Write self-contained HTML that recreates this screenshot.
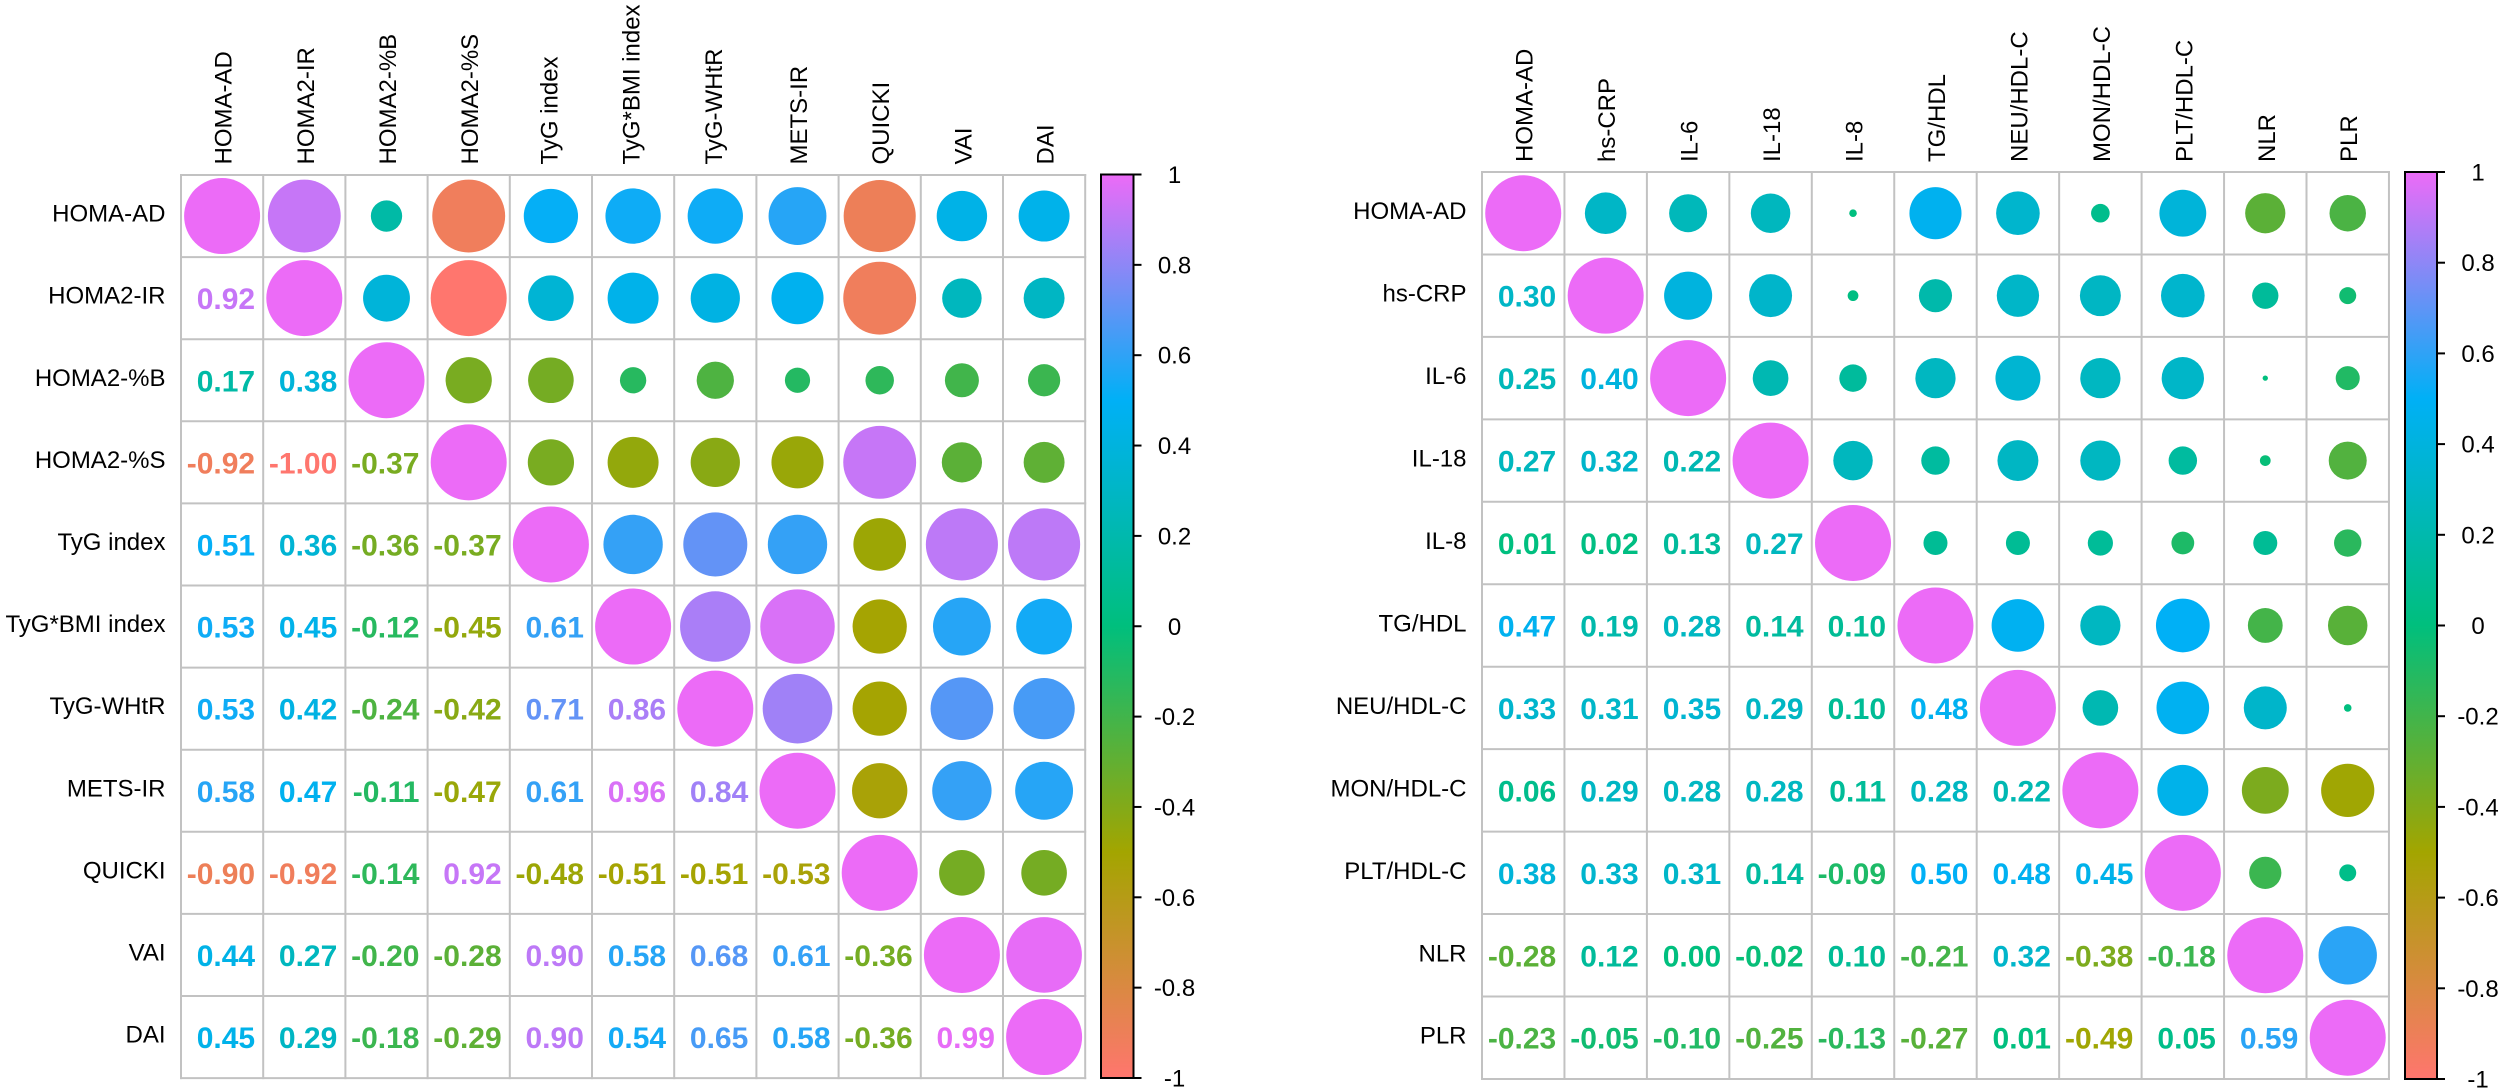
<!DOCTYPE html>
<html lang="en">
<head>
<meta charset="utf-8">
<title>Correlation matrices</title>
<style>
html,body{margin:0;padding:0;background:#fff;}
svg{display:block;font-family:"Liberation Sans",Arial,sans-serif;}
</style>
</head>
<body>
<svg id="chart" width="2500" height="1091" viewBox="0 0 2500 1091" xmlns="http://www.w3.org/2000/svg">
  <defs id="defs"></defs>
  <rect x="0" y="0" width="2500" height="1091" fill="#ffffff"></rect>
</svg>
<script>
// ---- data ----
const leftCategories = ["HOMA-AD","HOMA2-IR","HOMA2-%B","HOMA2-%S","TyG index","TyG*BMI index","TyG-WHtR","METS-IR","QUICKI","VAI","DAI"];
const leftValues = [
  [1],
  [0.92,1],
  [0.17,0.38,1],
  [-0.92,-1.00,-0.37,1],
  [0.51,0.36,-0.36,-0.37,1],
  [0.53,0.45,-0.12,-0.45,0.61,1],
  [0.53,0.42,-0.24,-0.42,0.71,0.86,1],
  [0.58,0.47,-0.11,-0.47,0.61,0.96,0.84,1],
  [-0.90,-0.92,-0.14,0.92,-0.48,-0.51,-0.51,-0.53,1],
  [0.44,0.27,-0.20,-0.28,0.90,0.58,0.68,0.61,-0.36,1],
  [0.45,0.29,-0.18,-0.29,0.90,0.54,0.65,0.58,-0.36,0.99,1]
];
const rightCategories = ["HOMA-AD","hs-CRP","IL-6","IL-18","IL-8","TG/HDL","NEU/HDL-C","MON/HDL-C","PLT/HDL-C","NLR","PLR"];
const rightValues = [
  [1],
  [0.30,1],
  [0.25,0.40,1],
  [0.27,0.32,0.22,1],
  [0.01,0.02,0.13,0.27,1],
  [0.47,0.19,0.28,0.14,0.10,1],
  [0.33,0.31,0.35,0.29,0.10,0.48,1],
  [0.06,0.29,0.28,0.28,0.11,0.28,0.22,1],
  [0.38,0.33,0.31,0.14,-0.09,0.50,0.48,0.45,1],
  [-0.28,0.12,0.0049,-0.02,0.10,-0.21,0.32,-0.38,-0.18,1],
  [-0.23,-0.05,-0.10,-0.25,-0.13,-0.27,0.01,-0.49,0.05,0.59,1]
];
const colorbarTicks = [1,0.8,0.6,0.4,0.2,0,-0.2,-0.4,-0.6,-0.8,-1];
const paletteDomain = [-1,-0.5,0,0.5,1];
const paletteColors = [[255,118,110],[163,165,0],[0,191,125],[0,176,246],[236,107,247]];

// ---- helpers ----
const NS = "http://www.w3.org/2000/svg";
const chart = document.getElementById("chart");
function mk(tag, parent){
  const el = document.createElementNS(NS, tag);
  parent.appendChild(el);
  return el;
}
function setA(el, k, v){ el.setAttribute(k, v); }
function colorFor(v){
  let i = 0;
  while(i < paletteDomain.length-2 && v > paletteDomain[i+1]) i++;
  const t = (v-paletteDomain[i])/(paletteDomain[i+1]-paletteDomain[i]);
  const a = paletteColors[i], b = paletteColors[i+1];
  return "rgb(" + [0,1,2].map(function(k){return Math.round(a[k]+(b[k]-a[k])*t);}).join(",") + ")";
}
function slug(s){ return s.toLowerCase().replace(/[^a-z0-9]+/g,"-").replace(/^-|-$/g,""); }

function drawPanel(prefix, cats, vals, L){
  const n = cats.length;
  const xScale = function(i){ return L.x0 + i*L.cw; };
  const yScale = function(i){ return L.y0 + i*L.ch; };
  const radius = function(v){ return L.rMax*Math.sqrt(Math.abs(v)); };
  const valueAt = function(r,c){ return r>=c ? vals[r][c] : vals[c][r]; };

  const panel = mk("g", chart);
  
  

  // grid
  const grid = mk("g", panel);
  
  
  for(let i=0;i<=n;i++){
    const h = mk("line", grid);
    
    
    setA(h,"x1",xScale(0)); setA(h,"x2",xScale(n)); setA(h,"y1",yScale(i)); setA(h,"y2",yScale(i));
    setA(h,"stroke","#c2c2c2"); setA(h,"stroke-width",2); setA(h,"stroke-linecap","square");
    const w = mk("line", grid);
    
    
    setA(w,"x1",xScale(i)); setA(w,"x2",xScale(i)); setA(w,"y1",yScale(0)); setA(w,"y2",yScale(n));
    setA(w,"stroke","#c2c2c2"); setA(w,"stroke-width",2); setA(w,"stroke-linecap","square");
  }

  // axis labels
  for(let i=0;i<n;i++){
    const rl = mk("text", panel);
    
    
    setA(rl,"x",L.rowRight); setA(rl,"y",yScale(i+0.5)+L.labelDy);
    setA(rl,"text-anchor","end"); setA(rl,"font-size",24); setA(rl,"fill","#000");
    rl.textContent = cats[i];

    const cl = mk("text", panel);
    
    
    const cx = xScale(i+0.5) + (/[gjpqy]/.test(cats[i]) ? 6.5 : 9.5);
    setA(cl,"transform","translate("+cx+" "+L.colBottom+") rotate(-90)");
    setA(cl,"text-anchor","start"); setA(cl,"font-size",24); setA(cl,"fill","#000");
    cl.textContent = cats[i];
  }

  // cells
  for(let r=0;r<n;r++){
    for(let c=0;c<n;c++){
      const v = valueAt(r,c);
      if(c>=r){
        const m = mk("circle", panel);
        
        
        setA(m,"cx",xScale(c+0.5)); setA(m,"cy",yScale(r+0.5)); setA(m,"r",radius(v));
        setA(m,"fill",colorFor(v));
      } else {
        const t = mk("text", panel);
        
        
        setA(t,"x",xScale(c+0.5)+33); setA(t,"y",yScale(r+0.5)+11);
        setA(t,"text-anchor","end"); setA(t,"font-size",30); setA(t,"font-weight","700");
        setA(t,"fill",colorFor(v));
        t.textContent = v.toFixed(2);
      }
    }
  }

  // colour bar
  const barY = function(v){ return L.y0Bar + (1-v)/2*L.barH; };
  const grad = mk("linearGradient", document.getElementById("defs"));
  const gid = prefix + "-bar-gradient";
  setA(grad,"id",gid); setA(grad,"x1",0); setA(grad,"y1",0); setA(grad,"x2",0); setA(grad,"y2",1);
  for(let i=paletteDomain.length-1;i>=0;i--){
    const s = mk("stop", grad);
    setA(s,"offset",(1-paletteDomain[i])/2);
    setA(s,"stop-color",colorFor(paletteDomain[i]));
  }
  const bar = mk("g", panel);
  
  
  const br = mk("rect", bar);
  
  
  setA(br,"x",L.barX); setA(br,"y",L.y0Bar); setA(br,"width",L.barW); setA(br,"height",L.barH);
  setA(br,"fill","url(#"+gid+")"); setA(br,"stroke","#000"); setA(br,"stroke-width",2);
  for(let i=0;i<colorbarTicks.length;i++){
    const v = colorbarTicks[i];
    const tk = mk("line", bar);
    
    
    setA(tk,"x1",L.barX+L.barW); setA(tk,"x2",L.barX+L.barW+8); setA(tk,"y1",barY(v)); setA(tk,"y2",barY(v));
    setA(tk,"stroke","#000"); setA(tk,"stroke-width",2);
    const tl = mk("text", bar);
    
    
    setA(tl,"x",L.barX+L.barW+41); setA(tl,"y",barY(v)+8.5);
    setA(tl,"text-anchor","middle"); setA(tl,"font-size",24); setA(tl,"fill","#000");
    tl.textContent = String(v);
  }
}

drawPanel("left", leftCategories, leftValues, {
  x0:181, y0:175, cw:82.2, ch:82.1, rMax:38, rowRight:165.5, colBottom:164.5, labelDy:5.5,
  barX:1101, barW:32.5, y0Bar:174.5, barH:903.5
});
drawPanel("right", rightCategories, rightValues, {
  x0:1482, y0:172, cw:82.45, ch:82.45, rMax:38, rowRight:1466.5, colBottom:162, labelDy:6,
  barX:2405, barW:32, y0Bar:172, barH:907
});
</script>
</body>
</html>
